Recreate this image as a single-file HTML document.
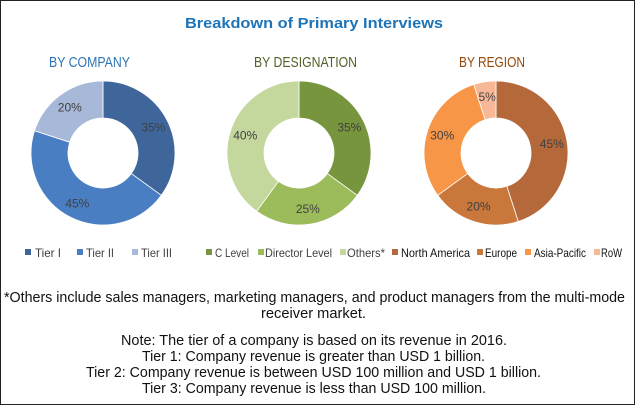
<!DOCTYPE html>
<html><head><meta charset="utf-8"><style>
body{margin:0;background:#fff}
svg{display:block;font-family:"Liberation Sans",sans-serif}
</style></head><body>
<svg id="c" width="635" height="405" viewBox="0 0 635 405">
<rect x="0.5" y="0.5" width="634" height="404" fill="#fff" stroke="#222"/>
<text x="185" y="28" font-weight="bold" font-size="15" fill="#1f74b8" textLength="258" lengthAdjust="spacingAndGlyphs">Breakdown  of Primary Interviews</text>
<g id="charts"></g>
<g font-size="15" fill="#111" lengthAdjust="spacingAndGlyphs">
<text x="4" y="302" textLength="621" lengthAdjust="spacingAndGlyphs">*Others include sales managers, marketing managers, and product managers from the multi-mode</text>
<text x="261" y="318" textLength="105" lengthAdjust="spacingAndGlyphs">receiver market.</text>
<text x="121" y="345" textLength="386" lengthAdjust="spacingAndGlyphs">Note: The tier of a company is based on its revenue in 2016.</text>
<text x="142" y="361" textLength="343" lengthAdjust="spacingAndGlyphs">Tier 1: Company revenue is greater than USD 1 billion.</text>
<text x="86" y="377" textLength="455" lengthAdjust="spacingAndGlyphs">Tier 2: Company revenue is between USD 100 million and USD 1 billion.</text>
<text x="142" y="393" textLength="344" lengthAdjust="spacingAndGlyphs">Tier 3: Company revenue is less than USD 100 million.</text>
</g>
</svg>
<script>
const companyLabels=["Tier I","Tier II","Tier III"];
const companyValues=[35,45,20];
const designationLabels=["C Level","Director Level","Others*"];
const designationValues=[35,25,40];
const regionLabels=["North America","Europe","Asia-Pacific","RoW"];
const regionValues=[45,20,30,5];
const NS="http://www.w3.org/2000/svg";
const g=document.getElementById('charts');
function mk(t,a,p){const e=document.createElementNS(NS,t);for(const k in a)e.setAttribute(k,a[k]);(p||g).appendChild(e);return e;}
const charts=[
 {title:"BY COMPANY",tc:"#2e74b5",cx:103,tx:49,tw:81,labels:companyLabels,values:companyValues,colors:["#3e669a","#4a7ec3","#a8b8d9"],lx:[25,77,132],tl:[35,86,141],lw:[26,28,31]},
 {title:"BY DESIGNATION",tc:"#4f6228",cx:299,tx:254,tw:103,labels:designationLabels,values:designationValues,colors:["#77953c","#9cbb5a","#c4d79c"],lx:[206,258,340],tl:[215,265,347],lw:[34,67,38]},
 {title:"BY REGION",tc:"#974706",cx:496,tx:459,tw:66,labels:regionLabels,values:regionValues,colors:["#b5693a","#c9773b","#f79646","#f8b898"],lx:[392,477,525,594],tl:[401,485,534,601],lw:[69,32,52,21]}
];
const cy=153,R=72,r=35;
charts.forEach((c,ci)=>{
 const t=mk('text',{x:c.tx,y:67,'font-size':'15','fill':c.tc,textLength:c.tw,lengthAdjust:'spacingAndGlyphs'});
 
 
 t.textContent=c.title;
 const total=c.values.reduce((a,b)=>a+b,0);
 let acc=0;
 c.values.forEach((v,i)=>{
  const a0=acc/total*2*Math.PI,a1=(acc+v)/total*2*Math.PI;acc+=v;
  const P=(rad,a)=>[c.cx+rad*Math.sin(a),cy-rad*Math.cos(a)];
  const [x0,y0]=P(R,a0),[x1,y1]=P(R,a1),[x2,y2]=P(r,a1),[x3,y3]=P(r,a0);
  const lg=(a1-a0)>Math.PI?1:0;
  const p=mk('path',{d:`M${x0},${y0}A${R},${R} 0 ${lg} 1 ${x1},${y1}L${x2},${y2}A${r},${r} 0 ${lg} 0 ${x3},${y3}Z`,fill:c.colors[i],stroke:'#fff','stroke-width':'0.8'});
  
  
  const am=(a0+a1)/2,[lx,ly]=P((R+r)/2+3,am);
  const l=mk('text',{x:lx,y:ly+4,'text-anchor':'middle','font-size':'12','fill':'#404040'});
  
  
  l.textContent=v+'%';
  const sw=mk('rect',{x:c.lx[i],y:249,width:6,height:6,fill:c.colors[i]});
  
  
  const lt=mk('text',{x:c.tl[i],y:257,'font-size':'12','fill':ci==2?'#111':'#404040',textLength:c.lw[i],lengthAdjust:'spacingAndGlyphs'});
  
  
  lt.textContent=c.labels[i];
 });
});
</script>
</body></html>
